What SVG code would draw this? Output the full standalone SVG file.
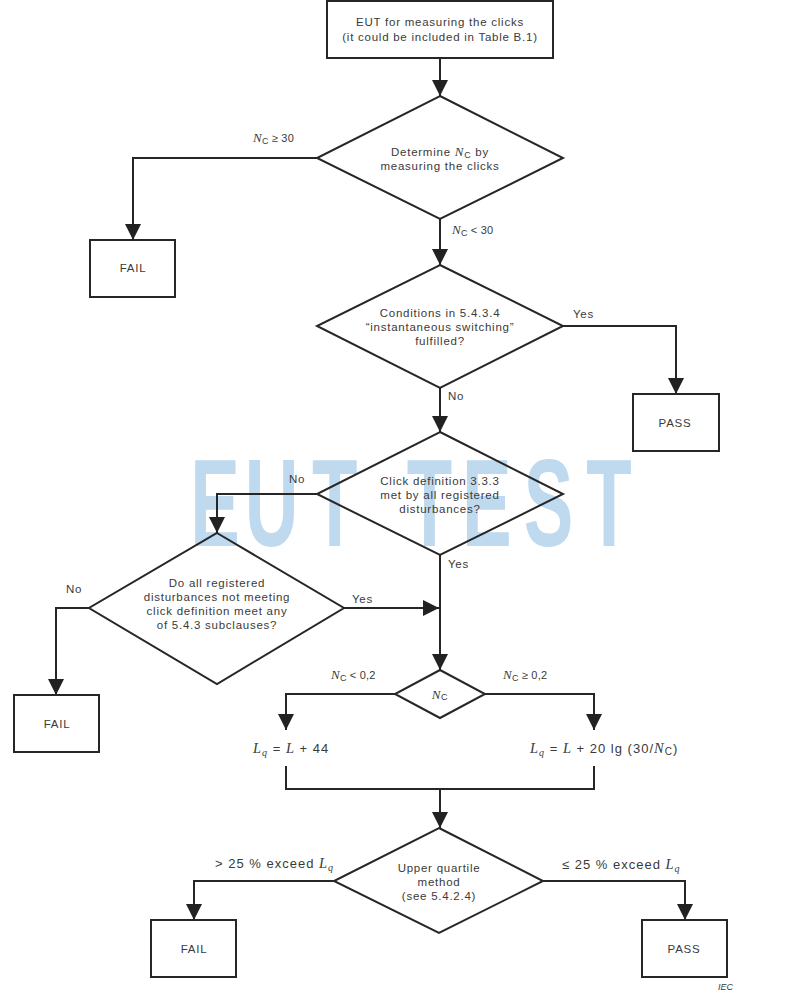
<svg xmlns="http://www.w3.org/2000/svg" width="811" height="1003" viewBox="0 0 811 1003">
<style>
text{font-family:"Liberation Sans",Arial,sans-serif;font-size:11.5px;fill:#3a3a3a;letter-spacing:.75px}
.m{text-anchor:middle}
.i{font-family:"Liberation Serif","Times New Roman",serif;font-style:italic;font-size:13px}
.s{font-size:9px}
.n{fill:none;stroke:#262626;stroke-width:2}
.c{fill:none;stroke:#262626;stroke-width:2}
.l{font-size:13px;letter-spacing:1px}
.l .i{font-size:14.5px}
.l .s{font-size:10px}
.b{letter-spacing:.2px;font-size:11px}
</style>
<defs><marker id="a" markerUnits="userSpaceOnUse" markerWidth="17" markerHeight="17" refX="16" refY="8" orient="auto"><path d="M0 0L16 8L0 16Z" fill="#222"/></marker></defs>
<text id="watermark" transform="scale(.6 1)" x="317 408 520 600 678 770 873 977" y="546" style="font-size:124px;font-weight:700;fill:#bfd9ee;letter-spacing:0">EUT TEST</text>
<g id="connectors">
<path class="c" d="M440 58V96" marker-end="url(#a)"/>
<path class="c" d="M317 158H133V240" marker-end="url(#a)"/>
<path class="c" d="M440 219V265" marker-end="url(#a)"/>
<path class="c" d="M563 326H676V394" marker-end="url(#a)"/>
<path class="c" d="M440 388V432" marker-end="url(#a)"/>
<path class="c" d="M317 494H217V533" marker-end="url(#a)"/>
<path class="c" d="M89 608H56V695" marker-end="url(#a)"/>
<path class="c" d="M344 608H439" marker-end="url(#a)"/>
<path class="c" d="M440 555V670" marker-end="url(#a)"/>
<path class="c" d="M395 694H286V730" marker-end="url(#a)"/>
<path class="c" d="M485 694H594V730" marker-end="url(#a)"/>
<path class="c" d="M286 766V789H594V766"/>
<path class="c" d="M440 789V828" marker-end="url(#a)"/>
<path class="c" d="M334 881H194V920" marker-end="url(#a)"/>
<path class="c" d="M543 881H685V920" marker-end="url(#a)"/>
</g>
<g id="start"><rect class="n" x="327" y="1" width="226" height="57"/><text class="m" x="440" y="26">EUT for measuring the clicks</text><text class="m" x="440" y="41">(it could be included in Table B.1)</text></g>
<g id="d1"><path class="n" d="M440 96L563 158L440 219L317 158Z"/><text class="m" x="440" y="156">Determine <tspan class="i">N</tspan><tspan class="s" dy="2">C</tspan><tspan dy="-2"> by</tspan></text><text class="m" x="440" y="170">measuring the clicks</text></g>
<g id="fail1"><rect class="n" x="90" y="240" width="85" height="57"/><text class="m" x="133" y="272">FAIL</text></g>
<g id="d2"><path class="n" d="M440 265L563 326L440 388L317 326Z"/><text class="m" x="440" y="317">Conditions in 5.4.3.4</text><text class="m" x="440" y="331">“instantaneous switching”</text><text class="m" x="440" y="345">fulfilled?</text></g>
<g id="pass1"><rect class="n" x="633" y="394" width="86" height="57"/><text class="m" x="675" y="427">PASS</text></g>
<g id="d3"><path class="n" d="M440 432L563 494L440 555L317 494Z"/><text class="m" x="440" y="485">Click definition 3.3.3</text><text class="m" x="440" y="499">met by all registered</text><text class="m" x="440" y="513">disturbances?</text></g>
<g id="d4"><path class="n" d="M217 533L344 608L217 684L89 608Z"/><text class="m" x="217" y="587">Do all registered</text><text class="m" x="217" y="601">disturbances not meeting</text><text class="m" x="217" y="615">click definition meet any</text><text class="m" x="217" y="629">of 5.4.3 subclauses?</text></g>
<g id="fail2"><rect class="n" x="14" y="695" width="85" height="57"/><text class="m" x="57" y="728">FAIL</text></g>
<g id="d5"><path class="n" d="M440 670L485 694L440 718L395 694Z"/><text class="m" x="440" y="699"><tspan class="i">N</tspan><tspan class="s" dy="1">C</tspan></text></g>
<g id="lq1"><text x="253" y="753" class="l"><tspan class="i">L</tspan><tspan class="i s" dy="3">q</tspan><tspan dy="-3"> = </tspan><tspan class="i">L</tspan><tspan> + 44</tspan></text></g>
<g id="lq2"><text x="530" y="753" class="l"><tspan class="i">L</tspan><tspan class="i s" dy="3">q</tspan><tspan dy="-3"> = </tspan><tspan class="i">L</tspan><tspan> + 20 lg (30/</tspan><tspan class="i">N</tspan><tspan class="s" dy="2">C</tspan><tspan dy="-2">)</tspan></text></g>
<g id="d6"><path class="n" d="M439 828L543 881L439 933L334 881Z"/><text class="m" x="439" y="872">Upper quartile</text><text class="m" x="439" y="886">method</text><text class="m" x="439" y="900">(see 5.4.2.4)</text></g>
<g id="fail3"><rect class="n" x="151" y="920" width="85" height="57"/><text class="m" x="194" y="953">FAIL</text></g>
<g id="pass2"><rect class="n" x="642" y="920" width="85" height="57"/><text class="m" x="684" y="953">PASS</text></g>
<g id="labels">
<text x="253" y="142" class="b"><tspan class="i">N</tspan><tspan class="s" dy="2">C</tspan><tspan dy="-2"> ≥ 30</tspan></text>
<text x="452" y="234" class="b"><tspan class="i">N</tspan><tspan class="s" dy="2">C</tspan><tspan dy="-2"> &lt; 30</tspan></text>
<text x="573" y="318">Yes</text>
<text x="448" y="400">No</text>
<text x="289" y="483">No</text>
<text x="448" y="568">Yes</text>
<text x="66" y="593">No</text>
<text x="352" y="603">Yes</text>
<text x="331" y="679" class="b"><tspan class="i">N</tspan><tspan class="s" dy="2">C</tspan><tspan dy="-2"> &lt; 0,2</tspan></text>
<text x="503" y="679" class="b"><tspan class="i">N</tspan><tspan class="s" dy="2">C</tspan><tspan dy="-2"> ≥ 0,2</tspan></text>
<text x="215" y="868" class="l">&gt; 25 % exceed <tspan class="i">L</tspan><tspan class="i s" dy="3">q</tspan></text>
<text x="562" y="869" class="l">≤ 25 % exceed <tspan class="i">L</tspan><tspan class="i s" dy="3">q</tspan></text>
<text x="718" y="990" style="font-size:9px;font-style:italic;letter-spacing:0">IEC</text>
</g>
</svg>
